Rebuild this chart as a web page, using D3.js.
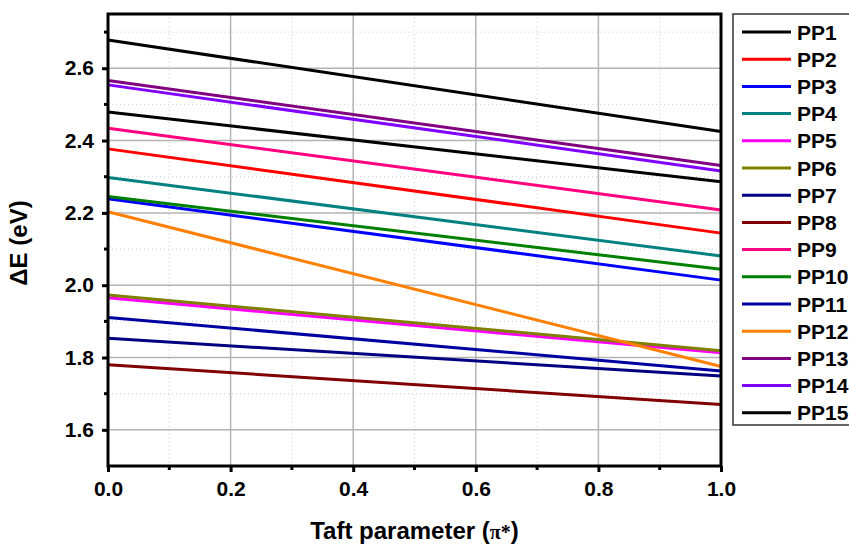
<!DOCTYPE html>
<html lang="en">
<head>
<meta charset="utf-8">
<title>Taft parameter</title>
<script src="https://d3js.org/d3.v7.min.js"></script>
<style>
  body { margin: 0; background: #fff; }
  text { font-family: Arial, "Liberation Sans", sans-serif; font-weight: bold; }
</style>
</head>
<body>
<div id="chart"></div>
<script>
// series names, colours and end values (at pi* = 0 and pi* = 1)
var names  = ["PP1","PP2","PP3","PP4","PP5","PP6","PP7","PP8","PP9","PP10","PP11","PP12","PP13","PP14","PP15"];
var colors = ["#000000","#ff0000","#0000ff","#008080","#ff00ff","#808000","#000080","#800000",
              "#ff0080","#008000","#0000a0","#ff8000","#800080","#8000ff","#000000"];
var xVals  = [0, 1];
var startE = [2.678, 2.377, 2.239, 2.298, 1.965, 1.973, 1.853, 1.780, 2.434, 2.245, 1.911, 2.203, 2.566, 2.554, 2.479];
var endE   = [2.425, 2.144, 2.014, 2.081, 1.813, 1.819, 1.749, 1.670, 2.208, 2.044, 1.763, 1.775, 2.331, 2.316, 2.286];
var xTicks = [0, 0.2, 0.4, 0.6, 0.8, 1.0];
var yTicks = [1.6, 1.8, 2.0, 2.2, 2.4, 2.6];

var W = 849, H = 544;
var margin = {top: 14, right: 128, bottom: 78, left: 108},
    width = W - margin.left - margin.right,
    height = H - margin.top - margin.bottom;

var svg = d3.select("#chart").append("svg")
    .attr("width", W).attr("height", H);
var g = svg.append("g")
    .attr("transform", `translate(${margin.left},${margin.top})`);

var x = d3.scaleLinear().domain([0, 1]).range([0, width]);
var y = d3.scaleLinear().domain([1.5, 2.75]).range([height, 0]);

// minor grid (dotted)
var xMinor = d3.range(0.1, 1, 0.2);
var yMinor = d3.range(1.5, 2.75, 0.2);
g.selectAll(".gxm").data(xMinor).join("line")
  .attr("x1", d => x(d)).attr("x2", d => x(d)).attr("y1", 0).attr("y2", height)
  .attr("stroke", "#cfcfcf").attr("stroke-width", 1).attr("stroke-dasharray", "1,3");
g.selectAll(".gym").data(yMinor).join("line")
  .attr("y1", d => y(d)).attr("y2", d => y(d)).attr("x1", 0).attr("x2", width)
  .attr("stroke", "#cfcfcf").attr("stroke-width", 1).attr("stroke-dasharray", "1,3");

// major grid (solid)
g.selectAll(".gx").data(xTicks.slice(1, -1)).join("line")
  .attr("x1", d => x(d)).attr("x2", d => x(d)).attr("y1", 0).attr("y2", height)
  .attr("stroke", "#b4b4b4").attr("stroke-width", 1.5);
g.selectAll(".gy").data(yTicks).join("line")
  .attr("y1", d => y(d)).attr("y2", d => y(d)).attr("x1", 0).attr("x2", width)
  .attr("stroke", "#b4b4b4").attr("stroke-width", 1.5);

// data lines
var line = d3.line().x(d => x(d[0])).y(d => y(d[1]));
names.forEach(function(n, i) {
  g.append("path")
    .datum([[xVals[0], startE[i]], [xVals[1], endE[i]]])
    .attr("d", line)
    .attr("fill", "none")
    .attr("stroke", colors[i])
    .attr("stroke-width", 3);
});

// frame
g.append("rect").attr("width", width).attr("height", height)
  .attr("fill", "none").attr("stroke", "#000").attr("stroke-width", 3);

// axes
var xAxis = g.append("g").attr("transform", `translate(0,${height})`)
  .call(d3.axisBottom(x).tickValues(xTicks).tickFormat(d3.format(".1f")).tickSize(6).tickPadding(9));
var yAxis = g.append("g")
  .call(d3.axisLeft(y).tickValues(yTicks).tickFormat(d3.format(".1f")).tickSize(6).tickPadding(8));
[xAxis, yAxis].forEach(function(a) {
  a.select(".domain").remove();
  a.selectAll(".tick line").attr("stroke", "#000").attr("stroke-width", 3);
  a.selectAll(".tick text").attr("font-size", 21).attr("font-weight", "bold")
    .attr("font-family", "Arial, 'Liberation Sans', sans-serif").attr("fill", "#000");
});
// minor ticks
g.selectAll(".xmt").data(xMinor).join("line")
  .attr("x1", d => x(d)).attr("x2", d => x(d)).attr("y1", height).attr("y2", height + 4)
  .attr("stroke", "#000").attr("stroke-width", 3);
g.selectAll(".ymt").data(d3.range(1.7, 2.75, 0.2)).join("line")
  .attr("y1", d => y(d)).attr("y2", d => y(d)).attr("x1", 0).attr("x2", -4)
  .attr("stroke", "#000").attr("stroke-width", 3);

// axis titles
var xt = svg.append("text")
  .attr("x", margin.left + width / 2).attr("y", 539)
  .attr("text-anchor", "middle").attr("font-size", 24);
xt.append("tspan").text("Taft parameter (");
xt.append("tspan").text("π*").attr("font-size", 20)
  .attr("font-family", "'Liberation Serif', 'DejaVu Serif', serif");
xt.append("tspan").text(")");

svg.append("text")
  .attr("transform", `translate(27,${margin.top + height / 2 + 3}) rotate(-90)`)
  .attr("text-anchor", "middle").attr("font-size", 24)
  .text("ΔE (eV)");

// legend
var lx = 733, ly = 14, lstep = 27.2;
svg.append("rect").attr("x", lx).attr("y", ly).attr("width", 130).attr("height", 411)
  .attr("fill", "#fff").attr("stroke", "#333").attr("stroke-width", 1.5);
var leg = svg.selectAll(".leg").data(names).join("g")
  .attr("transform", (d, i) => `translate(${lx}, ${ly + 18 + i * lstep})`);
leg.append("line").attr("x1", 9).attr("x2", 58).attr("y1", 0).attr("y2", 0)
  .attr("stroke", (d, i) => colors[i]).attr("stroke-width", 3);
leg.append("text").attr("x", 64).attr("y", 7.5).attr("font-size", 21).text(d => d);
</script>
</body>
</html>
